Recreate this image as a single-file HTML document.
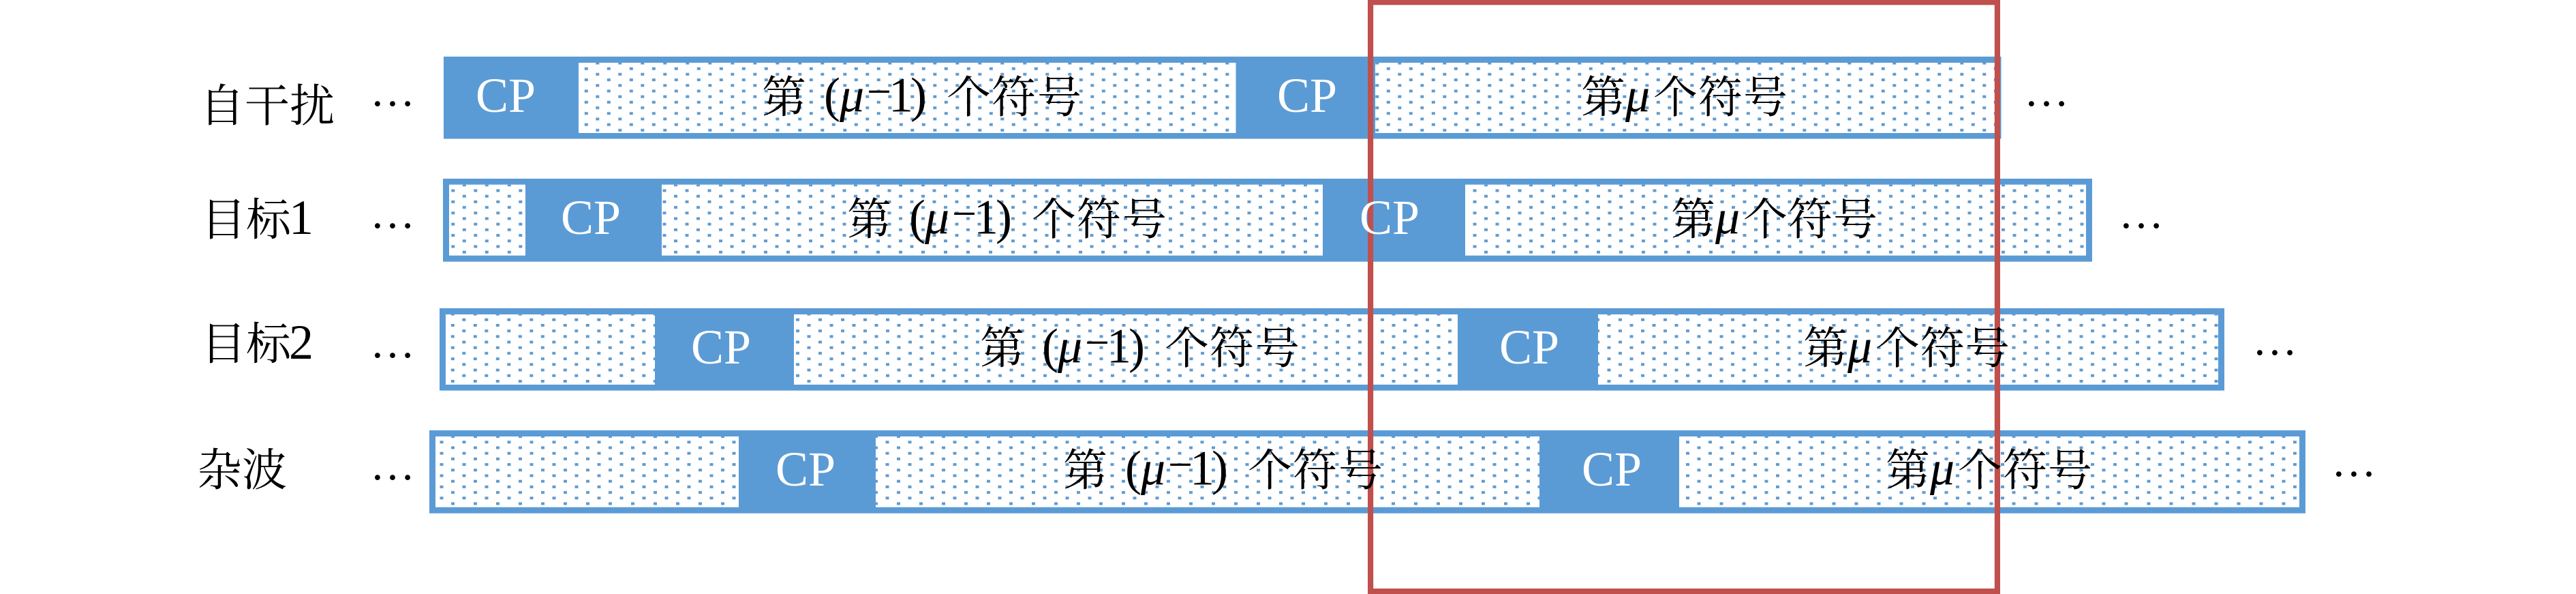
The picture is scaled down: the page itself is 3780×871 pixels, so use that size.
<!DOCTYPE html>
<html>
<head>
<meta charset="utf-8">
<style>
html,body{margin:0;padding:0;background:#fff;width:3780px;height:871px;overflow:hidden}
svg{display:block}
.cj{font-family:"Liberation Serif","Noto Serif CJK SC",serif;font-size:65px;fill:#000}
.lb{font-family:"Liberation Serif","Noto Serif CJK SC",serif;font-size:66px;fill:#000}
.la{font-family:"Liberation Serif",serif;font-size:72px;fill:#000}
.mn{font-family:"Liberation Serif",serif;font-size:64px;fill:#000}
.mu{font-family:"Liberation Serif",serif;font-size:72px;font-style:italic;fill:#000}
.cp{font-family:"Liberation Serif",serif;font-size:72px;fill:#fff}
.dt{font-family:"Liberation Serif",serif;font-size:66px;fill:#000}
</style>
</head>
<body>
<svg width="3780" height="871" viewBox="0 0 3780 871" xmlns="http://www.w3.org/2000/svg">
<defs>
<pattern id="p11" patternUnits="userSpaceOnUse" x="857.8" y="98.7" width="33" height="16.4"><rect width="5" height="4" fill="#5f9bd0"/><rect x="16.5" y="8.2" width="5" height="4" fill="#5f9bd0"/></pattern>
<pattern id="p12" patternUnits="userSpaceOnUse" x="2034.8" y="98.7" width="33" height="16.4"><rect width="5" height="4" fill="#5f9bd0"/><rect x="16.5" y="8.2" width="5" height="4" fill="#5f9bd0"/></pattern>
<pattern id="p21" patternUnits="userSpaceOnUse" x="662.3" y="277.5" width="33" height="16.4"><rect width="5" height="4" fill="#5f9bd0"/><rect x="16.5" y="8.2" width="5" height="4" fill="#5f9bd0"/></pattern>
<pattern id="p22" patternUnits="userSpaceOnUse" x="972.5" y="277.5" width="33" height="16.4"><rect width="5" height="4" fill="#5f9bd0"/><rect x="16.5" y="8.2" width="5" height="4" fill="#5f9bd0"/></pattern>
<pattern id="p23" patternUnits="userSpaceOnUse" x="2161.5" y="277.5" width="33" height="16.4"><rect width="5" height="4" fill="#5f9bd0"/><rect x="16.5" y="8.2" width="5" height="4" fill="#5f9bd0"/></pattern>
<pattern id="p31" patternUnits="userSpaceOnUse" x="661.8" y="475" width="33" height="16.4"><rect width="5" height="4" fill="#5f9bd0"/><rect x="16.5" y="8.2" width="5" height="4" fill="#5f9bd0"/></pattern>
<pattern id="p32" patternUnits="userSpaceOnUse" x="1184.5" y="475" width="33" height="16.4"><rect width="5" height="4" fill="#5f9bd0"/><rect x="16.5" y="8.2" width="5" height="4" fill="#5f9bd0"/></pattern>
<pattern id="p33" patternUnits="userSpaceOnUse" x="2358.5" y="475" width="33" height="16.4"><rect width="5" height="4" fill="#5f9bd0"/><rect x="16.5" y="8.2" width="5" height="4" fill="#5f9bd0"/></pattern>
<pattern id="p41" patternUnits="userSpaceOnUse" x="645.5" y="646.3" width="33" height="16.4"><rect width="5" height="4" fill="#5f9bd0"/><rect x="16.5" y="8.2" width="5" height="4" fill="#5f9bd0"/></pattern>
<pattern id="p42" patternUnits="userSpaceOnUse" x="1299.5" y="646.3" width="33" height="16.4"><rect width="5" height="4" fill="#5f9bd0"/><rect x="16.5" y="8.2" width="5" height="4" fill="#5f9bd0"/></pattern>
<pattern id="p43" patternUnits="userSpaceOnUse" x="2474" y="646.3" width="33" height="16.4"><rect width="5" height="4" fill="#5f9bd0"/><rect x="16.5" y="8.2" width="5" height="4" fill="#5f9bd0"/></pattern>
</defs>

<!-- row 1 -->
<rect x="651" y="83" width="2285.5" height="120.5" fill="#5b9bd5"/>
<rect x="849" y="92" width="964.5" height="103" fill="#fff"/><rect x="849" y="92" width="964.5" height="103" fill="url(#p11)"/>
<rect x="2018" y="92" width="909" height="103" fill="#fff"/><rect x="2018" y="92" width="909" height="103" fill="url(#p12)"/>
<!-- row 2 -->
<rect x="650" y="262" width="2420" height="121.7" fill="#5b9bd5"/>
<rect x="659" y="270.7" width="112" height="104" fill="#fff"/><rect x="659" y="270.7" width="112" height="104" fill="url(#p21)"/>
<rect x="971" y="270.7" width="970" height="104" fill="#fff"/><rect x="971" y="270.7" width="970" height="104" fill="url(#p22)"/>
<rect x="2150" y="270.7" width="911" height="104" fill="#fff"/><rect x="2150" y="270.7" width="911" height="104" fill="url(#p23)"/>
<!-- row 3 -->
<rect x="645" y="452" width="2619" height="120.7" fill="#5b9bd5"/>
<rect x="654" y="461" width="307" height="103" fill="#fff"/><rect x="654" y="461" width="307" height="103" fill="url(#p31)"/>
<rect x="1165" y="461" width="974" height="103" fill="#fff"/><rect x="1165" y="461" width="974" height="103" fill="url(#p32)"/>
<rect x="2345" y="461" width="910" height="103" fill="#fff"/><rect x="2345" y="461" width="910" height="103" fill="url(#p33)"/>
<!-- row 4 -->
<rect x="630" y="631" width="2753" height="121.7" fill="#5b9bd5"/>
<rect x="639" y="640" width="445" height="103.7" fill="#fff"/><rect x="639" y="640" width="445" height="103.7" fill="url(#p41)"/>
<rect x="1285" y="640" width="974" height="103.7" fill="#fff"/><rect x="1285" y="640" width="974" height="103.7" fill="url(#p42)"/>
<rect x="2464" y="640" width="910" height="103.7" fill="#fff"/><rect x="2464" y="640" width="910" height="103.7" fill="url(#p43)"/>

<!-- red box -->
<g fill="#c0504d">
<rect x="2007" y="0" width="928" height="7.3"/>
<rect x="2007" y="863" width="928" height="8"/>
<rect x="2007" y="0" width="8.2" height="871"/>
<rect x="2926.8" y="0" width="8.2" height="871"/>
</g>

<!-- row labels -->
<text class="lb" x="293" y="178">自干扰</text>
<text class="lb" x="295" y="345">目标</text><text class="la" x="424" y="343">1</text>
<text class="lb" x="295" y="527">目标</text><text class="la" x="424" y="526">2</text>
<text class="lb" x="289" y="712">杂波</text>

<!-- ellipses -->
<text class="dt" x="543" y="155">…</text>
<text class="dt" x="543" y="334">…</text>
<text class="dt" x="543" y="524">…</text>
<text class="dt" x="543" y="703">…</text>
<text class="dt" x="2970" y="155">…</text>
<text class="dt" x="3109" y="334">…</text>
<text class="dt" x="3305" y="520">…</text>
<text class="dt" x="3421" y="698">…</text>

<!-- CP -->
<text class="cp" x="698" y="164" textLength="88" lengthAdjust="spacingAndGlyphs">CP</text>
<text class="cp" x="1874" y="164" textLength="88" lengthAdjust="spacingAndGlyphs">CP</text>
<text class="cp" x="823" y="343" textLength="88" lengthAdjust="spacingAndGlyphs">CP</text>
<text class="cp" x="1995" y="343" textLength="88" lengthAdjust="spacingAndGlyphs">CP</text>
<text class="cp" x="1014" y="533" textLength="88" lengthAdjust="spacingAndGlyphs">CP</text>
<text class="cp" x="2200" y="533" textLength="88" lengthAdjust="spacingAndGlyphs">CP</text>
<text class="cp" x="1138" y="712" textLength="88" lengthAdjust="spacingAndGlyphs">CP</text>
<text class="cp" x="2321" y="712" textLength="88" lengthAdjust="spacingAndGlyphs">CP</text>

<!-- symbol mu-1 labels -->
<g transform="translate(0,0)">
<text class="cj" x="1118" y="165">第</text><text class="la" x="1209" y="163.5">(</text><text class="mu" x="1232" y="163.5">μ</text><text class="mn" x="1272" y="155.5">−</text><text class="la" x="1304" y="163.5">1</text><text class="la" x="1336" y="163.5">)</text><text class="cj" x="1389" y="165">个</text><text class="cj" x="1455" y="165">符</text><text class="cj" x="1522" y="165">号</text>
</g>
<g transform="translate(125,179)">
<text class="cj" x="1118" y="165">第</text><text class="la" x="1209" y="163.5">(</text><text class="mu" x="1232" y="163.5">μ</text><text class="mn" x="1272" y="155.5">−</text><text class="la" x="1304" y="163.5">1</text><text class="la" x="1336" y="163.5">)</text><text class="cj" x="1389" y="165">个</text><text class="cj" x="1455" y="165">符</text><text class="cj" x="1522" y="165">号</text>
</g>
<g transform="translate(320,368)">
<text class="cj" x="1118" y="165">第</text><text class="la" x="1209" y="163.5">(</text><text class="mu" x="1232" y="163.5">μ</text><text class="mn" x="1272" y="155.5">−</text><text class="la" x="1304" y="163.5">1</text><text class="la" x="1336" y="163.5">)</text><text class="cj" x="1389" y="165">个</text><text class="cj" x="1455" y="165">符</text><text class="cj" x="1522" y="165">号</text>
</g>
<g transform="translate(442,547)">
<text class="cj" x="1118" y="165">第</text><text class="la" x="1209" y="163.5">(</text><text class="mu" x="1232" y="163.5">μ</text><text class="mn" x="1272" y="155.5">−</text><text class="la" x="1304" y="163.5">1</text><text class="la" x="1336" y="163.5">)</text><text class="cj" x="1389" y="165">个</text><text class="cj" x="1455" y="165">符</text><text class="cj" x="1522" y="165">号</text>
</g>

<!-- symbol mu labels -->
<g transform="translate(0,0)">
<text class="cj" x="2320" y="165">第</text><text class="mu" x="2385" y="163.5">μ</text><text class="cj" x="2426" y="165">个</text><text class="cj" x="2492" y="165">符</text><text class="cj" x="2558" y="165">号</text>
</g>
<g transform="translate(132,179)">
<text class="cj" x="2320" y="165">第</text><text class="mu" x="2385" y="163.5">μ</text><text class="cj" x="2426" y="165">个</text><text class="cj" x="2492" y="165">符</text><text class="cj" x="2558" y="165">号</text>
</g>
<g transform="translate(326,368)">
<text class="cj" x="2320" y="165">第</text><text class="mu" x="2385" y="163.5">μ</text><text class="cj" x="2426" y="165">个</text><text class="cj" x="2492" y="165">符</text><text class="cj" x="2558" y="165">号</text>
</g>
<g transform="translate(447,547)">
<text class="cj" x="2320" y="165">第</text><text class="mu" x="2385" y="163.5">μ</text><text class="cj" x="2426" y="165">个</text><text class="cj" x="2492" y="165">符</text><text class="cj" x="2558" y="165">号</text>
</g>
</svg>
</body>
</html>
